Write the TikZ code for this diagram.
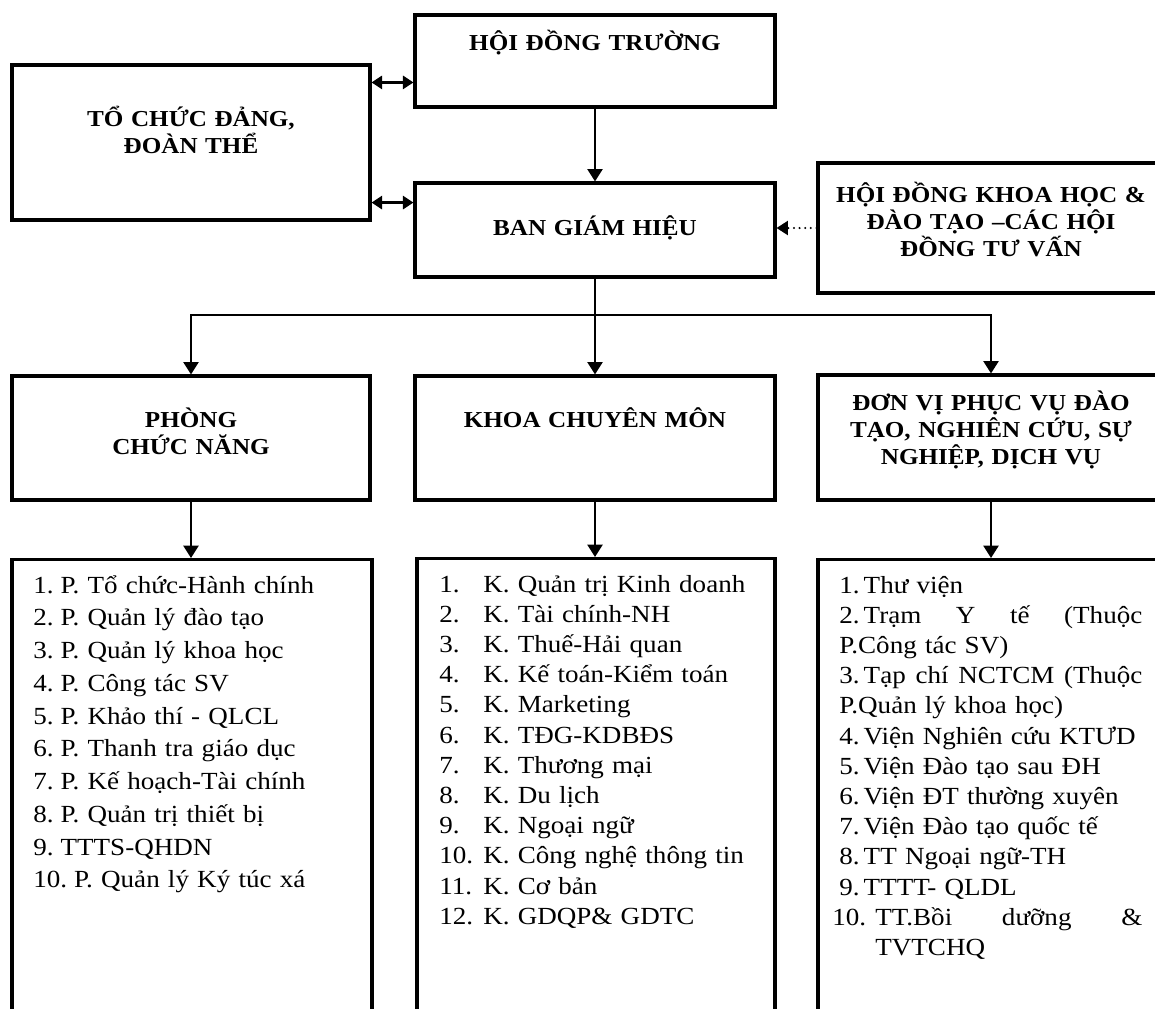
\documentclass[tikz,border=0pt]{standalone}
\usepackage{fontspec}
\setmainfont[FakeStretch=1.1]{Liberation Serif}
\usepackage{tikz}
\usetikzlibrary{arrows.meta, positioning, calc}

\def\numgap{\hspace{4pt}}
\def\fullline#1{\leavevmode\hbox to 6.06cm{#1}}

\begin{document}
\begin{tikzpicture}[x=0.02cm, y=-0.02cm,
    box/.style={
        draw, rectangle, line width=1.8pt, inner sep=0pt,
    },
    head/.style={
        inner sep=0pt, text width=6.8cm, align=center, anchor=base,
        font=\bfseries\fontsize{13}{15.5}\selectfont,
    },
    items/.style={
        inner sep=0pt, anchor=base west, align=left,
        font=\fontsize{14}{#1}\selectfont,
    },
    link/.style={line width=1.3pt},
    arr/.style={link, -{Triangle[length=7pt, width=8.5pt]}},
    dbl/.style={link, {Triangle[length=6pt, width=7.5pt]}-{Triangle[length=6pt, width=7.5pt]}},
    dots/.style={
        link, line cap=round, dash pattern=on 0pt off 3.2pt,
        -{Triangle[length=6.5pt, width=8pt]},
    },
]
\clip (0,0) rectangle (1155,1008);

% ── Top row ────────────────────────────────────────────────────────────
\node[box, minimum width=7.16cm, minimum height=3.1cm]  (tcd)  at (191,142.5) {};
\node[box, minimum width=7.2cm,  minimum height=1.84cm] (hdt)  at (595,61)    {};
\node[box, minimum width=7.2cm,  minimum height=1.88cm] (bgh)  at (595,230)   {};
\node[box, minimum width=6.92cm, minimum height=2.6cm]  (hdkh) at (991,228)   {};

\node[head] (tcd-t)  at (191,126) {TỔ CHỨC ĐẢNG,\\ĐOÀN THỂ};
\node[head] (hdt-t)  at (595,50)  {HỘI ĐỒNG TRƯỜNG};
\node[head] (bgh-t)  at (595,235) {BAN GIÁM HIỆU};
\node[head] (hdkh-t) at (991,202) {HỘI ĐỒNG KHOA HỌC \&\\ĐÀO TẠO –CÁC HỘI\\ĐỒNG TƯ VẤN};

\path ([yshift=-0.38cm]tcd.north east) coordinate (t1)
      ([yshift=0.38cm]tcd.south east)  coordinate (t2);
\draw[dbl] (t1) -- (t1 -| hdt.west);
\draw[dbl] (t2) -- (t2 -| bgh.west);
\draw[arr] (hdt.south) -- (bgh.north);
\draw[dots] (hdkh.west) -- (hdkh.west -| bgh.east);

% ── Middle row ─────────────────────────────────────────────────────────
\node[box, minimum width=7.16cm, minimum height=2.48cm] (phong) at (191,438)   {};
\node[box, minimum width=7.2cm,  minimum height=2.48cm] (khoa)  at (595,438)   {};
\node[box, minimum width=6.92cm, minimum height=2.5cm]  (donvi) at (991,437.5) {};

\node[head] (phong-t) at (191,427) {PHÒNG\\CHỨC NĂNG};
\node[head] (khoa-t)  at (595,427) {KHOA CHUYÊN MÔN};
\node[head] (donvi-t) at (991,410) {ĐƠN VỊ PHỤC VỤ ĐÀO\\TẠO, NGHIÊN CỨU, SỰ\\NGHIỆP, DỊCH VỤ};

\coordinate (bus) at (595,315);
\draw[link] (bgh.south) -- (bus);
\draw[arr] (bus) -| (phong.north);
\draw[arr] (bus) -- (khoa.north);
\draw[arr] (bus) -| (donvi.north);

% ── Lists ──────────────────────────────────────────────────────────────
\node[box, anchor=north, minimum width=7.2cm,  minimum height=9.04cm] (list1) at (192,558) {};
\node[box, anchor=north, minimum width=7.16cm, minimum height=9.06cm] (list2) at (596,557) {};
\node[box, anchor=north, minimum width=6.92cm, minimum height=9.04cm] (list3) at (991,558) {};

\draw[arr] (phong.south) -- (phong.south |- list1.north);
\draw[arr] (khoa.south)  -- (khoa.south |- list2.north);
\draw[arr] (donvi.south) -- (donvi.south |- list3.north);

\node[items=18.65pt, text width=6.6cm] (l1) at (33,593) {
    1.\numgap P. Tổ chức-Hành chính\\
    2.\numgap P. Quản lý đào tạo\\
    3.\numgap P. Quản lý khoa học\\
    4.\numgap P. Công tác SV\\
    5.\numgap P. Khảo thí - QLCL\\
    6.\numgap P. Thanh tra giáo dục\\
    7.\numgap P. Kế hoạch-Tài chính\\
    8.\numgap P. Quản trị thiết bị\\
    9.\numgap TTTS-QHDN\\
    10.\numgap P. Quản lý Ký túc xá
};

\node[items=17.2pt, text width=6.6cm] (l2) at (439,592) {
    \makebox[0.88cm][l]{1.}K. Quản trị Kinh doanh\\
    \makebox[0.88cm][l]{2.}K. Tài chính-NH\\
    \makebox[0.88cm][l]{3.}K. Thuế-Hải quan\\
    \makebox[0.88cm][l]{4.}K. Kế toán-Kiểm toán\\
    \makebox[0.88cm][l]{5.}K. Marketing\\
    \makebox[0.88cm][l]{6.}K. TĐG-KDBĐS\\
    \makebox[0.88cm][l]{7.}K. Thương mại\\
    \makebox[0.88cm][l]{8.}K. Du lịch\\
    \makebox[0.88cm][l]{9.}K. Ngoại ngữ\\
    \makebox[0.88cm][l]{10.}K. Công nghệ thông tin\\
    \makebox[0.88cm][l]{11.}K. Cơ bản\\
    \makebox[0.88cm][l]{12.}K. GDQP\& GDTC
};

\node[items=17.2pt, text width=6.06cm] (l3) at (839,593) {
    1.\,Thư viện\\
    \fullline{2.\,Trạm\hfill Y\hfill tế\hfill (Thuộc}\\
    P.Công tác SV)\\
    \fullline{3.\,Tạp\hfill chí\hfill NCTCM\hfill (Thuộc}\\
    P.Quản lý khoa học)\\
    4.\,Viện Nghiên cứu KTƯD\\
    5.\,Viện Đào tạo sau ĐH\\
    6.\,Viện ĐT thường xuyên\\
    7.\,Viện Đào tạo quốc tế\\
    8.\,TT Ngoại ngữ-TH\\
    9.\,TTTT- QLDL\\
    \fullline{\hspace*{-0.14cm}\makebox[0.86cm][l]{10.}TT.Bồi\hfill dưỡng\hfill\&}\\
    \hspace*{0.72cm}TVTCHQ
};

\end{tikzpicture}
\end{document}
